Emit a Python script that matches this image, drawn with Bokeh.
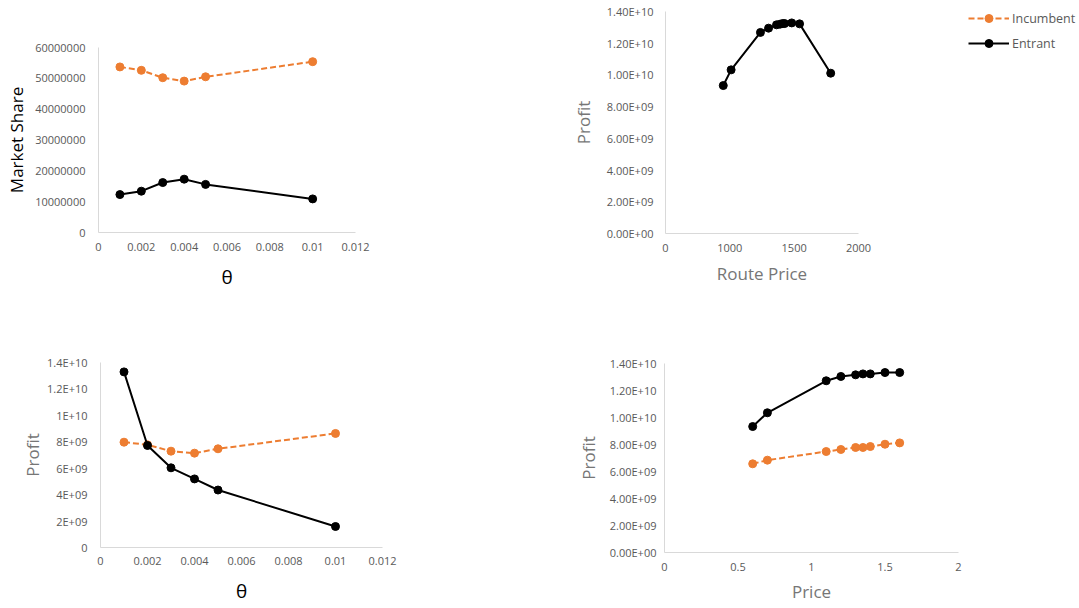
import numpy as np
from bokeh.plotting import figure
from bokeh.layouts import column, row
from bokeh.models import Range1d, FixedTicker, Label, Legend, LegendItem
from bokeh.embed import file_html
from bokeh.resources import INLINE

FONT = "Open Sans"
ORANGE = "#ED7D31"
BLACK = "#000000"
TICK_COLOR = "#595959"
TITLE_GREY = "#767676"
AXIS_COLOR = "#D9D9D9"

# ---------------- data ----------------
theta = [0.001, 0.002, 0.003, 0.004, 0.005, 0.01]
share_incumbent = [53.7e6, 52.6e6, 50.2e6, 49.1e6, 50.5e6, 55.4e6]
share_entrant = [12.3e6, 13.4e6, 16.2e6, 17.3e6, 15.6e6, 10.9e6]

route_price = [949, 1010, 1238, 1301, 1363, 1390, 1410, 1426, 1481, 1542, 1784]
route_profit_entrant = [9.33e9, 10.32e9, 12.68e9, 12.95e9, 13.16e9, 13.2e9,
                        13.24e9, 13.24e9, 13.28e9, 13.22e9, 10.11e9]

profit_theta_incumbent = [7.97e9, 7.77e9, 7.29e9, 7.14e9, 7.47e9, 8.63e9]
profit_theta_entrant = [13.29e9, 7.72e9, 6.03e9, 5.19e9, 4.35e9, 1.59e9]

price = [0.6, 0.7, 1.1, 1.2, 1.3, 1.35, 1.4, 1.5, 1.6]
price_profit_entrant = [9.33e9, 10.35e9, 12.72e9, 13.04e9, 13.16e9, 13.23e9,
                        13.23e9, 13.33e9, 13.33e9]
price_profit_incumbent = [6.57e9, 6.84e9, 7.48e9, 7.63e9, 7.78e9, 7.78e9,
                          7.85e9, 8.02e9, 8.12e9]

series_names = ["Incumbent", "Entrant"]
# legend-only renderers carry no visible point (NaN = no mark)
legend_x = np.array([np.nan])
legend_y = np.array([np.nan])

theta_ticks = [0, 0.002, 0.004, 0.006, 0.008, 0.01, 0.012]
theta_labels = ["0", "0.002", "0.004", "0.006", "0.008", "0.01", "0.012"]
share_ticks = [0, 10000000, 20000000, 30000000, 40000000, 50000000, 60000000]
share_labels = ["0", "10000000", "20000000", "30000000", "40000000", "50000000", "60000000"]
route_ticks = [500, 1000, 1500, 2000]
route_labels = ["0", "1000", "1500", "2000"]
profit_ticks = [0, 2e9, 4e9, 6e9, 8e9, 10e9, 12e9, 14e9]
profit_labels_sci2 = ["0.00E+00", "2.00E+09", "4.00E+09", "6.00E+09", "8.00E+09",
                      "1.00E+10", "1.20E+10", "1.40E+10"]
profit_labels_short = ["0", "2E+09", "4E+09", "6E+09", "8E+09", "1E+10", "1.2E+10", "1.4E+10"]
price_ticks = [0, 0.5, 1, 1.5, 2]
price_labels = ["0", "0.5", "1", "1.5", "2"]


def no_align(p):
    if "frame_align" in p.properties():
        p.frame_align = False


def make_fig(w, h, left, right, top, bottom, xr, yr, xt, xl, yt, yl):
    p = figure(width=w, height=h, x_range=Range1d(*xr), y_range=Range1d(*yr),
               title=None, output_backend="svg", toolbar_location=None,
               min_border_left=left, min_border_right=right,
               min_border_top=top, min_border_bottom=bottom)
    no_align(p)
    p.outline_line_color = None
    p.grid.visible = False
    p.background_fill_color = "white"
    p.border_fill_color = "white"
    p.xaxis.ticker = FixedTicker(ticks=xt)
    p.xaxis.major_label_overrides = dict(zip(xt, xl))
    p.yaxis.ticker = FixedTicker(ticks=yt)
    p.yaxis.major_label_overrides = dict(zip(yt, yl))
    for ax in (p.xaxis, p.yaxis):
        ax.axis_line_color = AXIS_COLOR
        ax.axis_line_width = 1
        ax.major_tick_line_color = None
        ax.minor_tick_line_color = None
        ax.major_tick_in = 0
        ax.major_tick_out = 0
        ax.major_label_text_font = FONT
        ax.major_label_text_font_size = "11px"
        ax.major_label_text_color = TICK_COLOR
        ax.axis_label_text_font = FONT
        ax.axis_label_text_font_style = "normal"
    return p


def add_series(p, x, y, color, dashed):
    dash = "6 3" if dashed else "solid"
    l = p.line(x, y, line_color=color, line_width=2, line_dash=dash)
    s = p.scatter(x, y, size=8, fill_color=color, line_color=color)
    return [l, s]


def add_tag(p, text, x, y):
    p.add_layout(Label(x=x, y=y, x_units="screen", y_units="screen", text=text,
                       text_font=FONT, text_font_size="18px", text_color=BLACK,
                       text_baseline="middle", text_align="left"))


# (a) market share vs theta
pa = make_fig(560, 296, 98, 205, 47, 64, (0, 0.012), (0, 60000000),
              theta_ticks, theta_labels, share_ticks, share_labels)
add_series(pa, theta, share_incumbent, ORANGE, True)
add_series(pa, theta, share_entrant, BLACK, False)
pa.yaxis.axis_label = "Market Share"
pa.yaxis.axis_label_text_font_size = "17px"
pa.yaxis.axis_label_text_color = BLACK
pa.yaxis.major_label_standoff = 13
pa.yaxis.axis_label_standoff = 4
pa.xaxis.axis_label = "θ"
pa.xaxis.axis_label_text_font_size = "19px"
pa.xaxis.axis_label_text_color = BLACK
pa.xaxis.major_label_standoff = 10
pa.xaxis.axis_label_standoff = 10
add_tag(pa, "(a)", -85, -16)

# (b) profit vs route price
pb = make_fig(398, 296, 105, 100, 11, 63, (500, 2000), (0, 14e9),
              route_ticks, route_labels, profit_ticks, profit_labels_sci2)
add_series(pb, route_price, route_profit_entrant, BLACK, False)
pb.yaxis.axis_label = "Profit"
pb.yaxis.axis_label_text_font_size = "17px"
pb.yaxis.axis_label_text_color = TITLE_GREY
pb.yaxis.major_label_standoff = 12
pb.yaxis.axis_label_standoff = 9
pb.xaxis.axis_label = "Route Price"
pb.xaxis.axis_label_text_font_size = "17px"
pb.xaxis.axis_label_text_color = TITLE_GREY
pb.xaxis.major_label_standoff = 10
pb.xaxis.axis_label_standoff = 7
add_tag(pb, "(b)", -63, -23)

# shared legend panel, to the right of (b)
pl = figure(width=121, height=296, x_range=Range1d(0, 1), y_range=Range1d(0, 1),
            title=None, output_backend="svg", toolbar_location=None,
            x_axis_type=None, y_axis_type=None, min_border=0)
no_align(pl)
pl.outline_line_color = None
pl.grid.visible = False
leg_inc = add_series(pl, legend_x, legend_y, ORANGE, True)
leg_ent = add_series(pl, legend_x, legend_y, BLACK, False)
legend = Legend(items=[LegendItem(label=series_names[0], renderers=leg_inc),
                       LegendItem(label=series_names[1], renderers=leg_ent)],
                location=(10, 243), orientation="vertical",
                glyph_width=41, glyph_height=20, label_standoff=3, spacing=5,
                padding=0, margin=0, border_line_color=None,
                background_fill_alpha=0,
                label_text_font=FONT, label_text_font_size="12.5px",
                label_text_color=TICK_COLOR)
pl.add_layout(legend)

# (c) profit vs theta
pc = make_fig(560, 312, 100, 178, 66, 61, (0, 0.012), (0, 14e9),
              theta_ticks, theta_labels, profit_ticks, profit_labels_short)
add_series(pc, theta, profit_theta_incumbent, ORANGE, True)
add_series(pc, theta, profit_theta_entrant, BLACK, False)
pc.yaxis.axis_label = "Profit"
pc.yaxis.axis_label_text_font_size = "17px"
pc.yaxis.axis_label_text_color = TITLE_GREY
pc.yaxis.major_label_standoff = 13
pc.yaxis.axis_label_standoff = 0
pc.xaxis.axis_label = "θ"
pc.xaxis.axis_label_text_font_size = "19px"
pc.xaxis.axis_label_text_color = BLACK
pc.xaxis.major_label_standoff = 9
pc.xaxis.axis_label_standoff = 10
add_tag(pc, "(C)", -85, -30)

# (d) profit vs price
pd_ = make_fig(519, 312, 104, 121, 67, 56, (0, 2), (0, 14e9),
               price_ticks, price_labels, profit_ticks, profit_labels_sci2)
add_series(pd_, price, price_profit_incumbent, ORANGE, True)
add_series(pd_, price, price_profit_entrant, BLACK, False)
pd_.yaxis.axis_label = "Profit"
pd_.yaxis.axis_label_text_font_size = "17px"
pd_.yaxis.axis_label_text_color = TITLE_GREY
pd_.yaxis.major_label_standoff = 8
pd_.yaxis.axis_label_standoff = 7
pd_.xaxis.axis_label = "Price"
pd_.xaxis.axis_label_text_font_size = "17px"
pd_.xaxis.axis_label_text_color = TITLE_GREY
pd_.xaxis.major_label_standoff = 10
pd_.xaxis.axis_label_standoff = 6
add_tag(pd_, "(d)", -59, -26)

layout = column(row(pa, pb, pl), row(pc, pd_))
open("out.html", "w").write(file_html(layout, INLINE))
